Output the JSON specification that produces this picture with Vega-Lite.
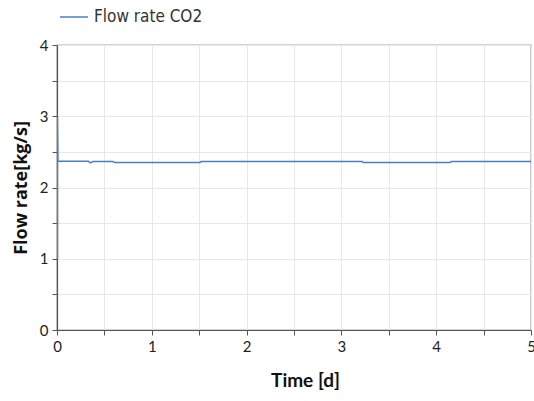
{
  "$schema": "https://vega.github.io/schema/vega-lite/v6.json",
  "autosize": "none",
  "width": 474,
  "height": 285,
  "padding": {"left": 57, "top": 45, "right": 3, "bottom": 71},
  "background": "white",
  "config": {
    "view": {"stroke": "#555555", "strokeWidth": 1.2},
    "axis": {
      "labelFont": "Lato",
      "labelFontSize": 15,
      "labelColor": "#222222",
      "titleFont": "Lato",
      "titleFontWeight": "bold",
      "titleColor": "#111111",
      "domainColor": "#555555",
      "domainWidth": 1.2,
      "tickColor": "#555555",
      "tickSize": 5,
      "gridColor": "#e8e8e8",
      "gridWidth": 1,
      "format": "d"
    }
  },
  "data": {
    "values": [
      {"i": 0, "t": 0.005, "q": 1.0, "series": "Flow rate CO2"},
      {"i": 1, "t": 0.005, "q": 3.0, "series": "Flow rate CO2"},
      {"i": 2, "t": 0.01, "q": 2.37, "series": "Flow rate CO2"},
      {"i": 3, "t": 0.33, "q": 2.37, "series": "Flow rate CO2"},
      {"i": 4, "t": 0.35, "q": 2.345, "series": "Flow rate CO2"},
      {"i": 5, "t": 0.38, "q": 2.365, "series": "Flow rate CO2"},
      {"i": 6, "t": 0.59, "q": 2.365, "series": "Flow rate CO2"},
      {"i": 7, "t": 0.61, "q": 2.35, "series": "Flow rate CO2"},
      {"i": 8, "t": 1.51, "q": 2.35, "series": "Flow rate CO2"},
      {"i": 9, "t": 1.52, "q": 2.365, "series": "Flow rate CO2"},
      {"i": 10, "t": 3.22, "q": 2.365, "series": "Flow rate CO2"},
      {"i": 11, "t": 3.23, "q": 2.35, "series": "Flow rate CO2"},
      {"i": 12, "t": 4.15, "q": 2.35, "series": "Flow rate CO2"},
      {"i": 13, "t": 4.16, "q": 2.365, "series": "Flow rate CO2"},
      {"i": 14, "t": 5.0, "q": 2.365, "series": "Flow rate CO2"}
    ]
  },
  "mark": {"type": "line", "strokeWidth": 1.5, "clip": true},
  "encoding": {
    "x": {
      "field": "t",
      "type": "quantitative",
      "scale": {"domain": [0, 5], "nice": false},
      "axis": {
        "title": "Time [d]",
        "titleFontSize": 19,
        "titlePadding": 17,
        "titleX": 248,
        "values": [0, 0.5, 1, 1.5, 2, 2.5, 3, 3.5, 4, 4.5, 5],
        "labelExpr": "datum.value % 1 == 0 ? datum.label : ''",
        "labelFlush": false,
        "labelPadding": 4
      }
    },
    "y": {
      "field": "q",
      "type": "quantitative",
      "scale": {"domain": [0, 4], "nice": false},
      "axis": {
        "title": "Flow rate[kg/s]",
        "titleFont": "Open Sans",
        "titleFontSize": 18,
        "titlePadding": 9,
        "values": [0, 0.5, 1, 1.5, 2, 2.5, 3, 3.5, 4],
        "labelExpr": "datum.value % 1 == 0 ? datum.label : ''",
        "labelPadding": 4
      }
    },
    "order": {"field": "i", "type": "quantitative"},
    "color": {
      "field": "series",
      "type": "nominal",
      "scale": {"range": ["#4a7ec9"]},
      "legend": {
        "title": null,
        "orient": "none",
        "legendX": 2,
        "legendY": -43,
        "symbolType": "stroke",
        "symbolSize": 784,
        "symbolStrokeWidth": 1.5,
        "labelFont": "DejaVu Sans Condensed",
        "labelFontSize": 17,
        "labelColor": "#333333",
        "labelOffset": 5
      }
    }
  }
}
